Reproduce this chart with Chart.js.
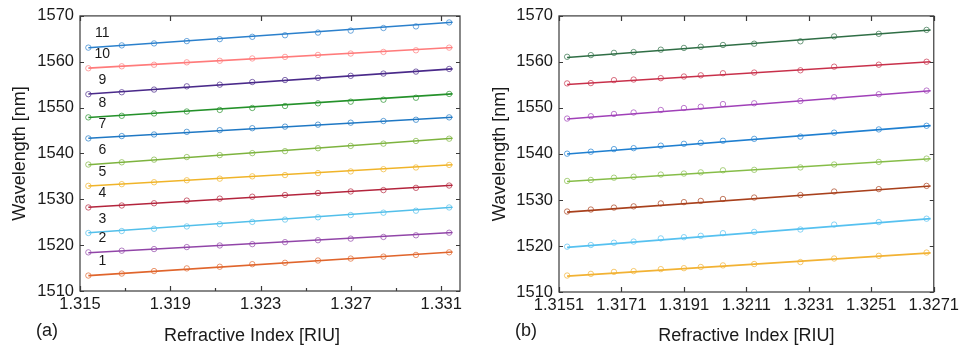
<!DOCTYPE html>
<html>
<head>
<meta charset="utf-8">
<script src="https://cdn.jsdelivr.net/npm/chart.js@4"></script>
<style>
html, body { margin: 0; padding: 0; background: #fff; }
#wrap { position: relative; width: 963px; height: 351px; }
canvas { position: absolute; top: 0; }
#chartA { left: 0; }
#chartB { left: 480px; }
</style>
</head>
<body>
<div id="wrap">
  <canvas id="chartA" width="480" height="351"></canvas>
  <canvas id="chartB" width="483" height="351"></canvas>
</div>
<script>
// Panel (a): refractive index of each measurement, shared by the 11 traces
const riA = [1.31537, 1.31685, 1.31828, 1.31973, 1.32119, 1.32263, 1.32408, 1.32554, 1.32699, 1.32844, 1.32988, 1.33135];
const a1  = [1513.37, 1513.80, 1514.35, 1514.93, 1515.29, 1515.85, 1516.15, 1516.65, 1517.07, 1517.50, 1517.87, 1518.43];
const a2  = [1518.43, 1518.79, 1519.15, 1519.58, 1519.93, 1520.22, 1520.65, 1521.08, 1521.42, 1521.79, 1522.15, 1522.71];
const a3  = [1522.65, 1523.08, 1523.57, 1524.08, 1524.58, 1525.07, 1525.58, 1526.07, 1526.57, 1527.08, 1527.51, 1528.22];
const a4  = [1528.22, 1528.65, 1529.14, 1529.72, 1530.15, 1530.57, 1530.94, 1531.37, 1531.71, 1532.01, 1532.50, 1533.00];
const a5  = [1532.93, 1533.30, 1533.72, 1534.15, 1534.50, 1535.01, 1535.29, 1535.72, 1536.08, 1536.57, 1536.94, 1537.50];
const a6  = [1537.58, 1538.07, 1538.65, 1539.21, 1539.64, 1540.07, 1540.50, 1541.14, 1541.65, 1542.14, 1542.72, 1543.22];
const a7  = [1543.28, 1543.79, 1544.14, 1544.71, 1545.08, 1545.51, 1545.85, 1546.28, 1546.71, 1547.07, 1547.35, 1547.87];
const a8  = [1547.87, 1548.21, 1548.72, 1549.15, 1549.49, 1549.92, 1550.35, 1550.93, 1551.29, 1551.72, 1552.15, 1552.98];
const a9  = [1552.92, 1553.35, 1553.93, 1554.64, 1555.00, 1555.58, 1556.01, 1556.50, 1556.93, 1557.42, 1557.85, 1558.43];
const a10 = [1558.58, 1559.01, 1559.35, 1559.87, 1560.21, 1560.72, 1561.06, 1561.49, 1561.79, 1562.14, 1562.50, 1563.08];
const a11 = [1563.08, 1563.57, 1564.00, 1564.50, 1564.93, 1565.44, 1565.78, 1566.36, 1566.79, 1567.36, 1567.71, 1568.57];
// fitted lines of panel (a): value at the first and at the last index
const fitXA     = [1.31537, 1.33150];
const fitStartA = [1513.35, 1518.35, 1522.70, 1528.25, 1532.90, 1537.55, 1543.30, 1547.85, 1552.95, 1558.60, 1563.05];
const fitEndA   = [1518.50, 1522.75, 1528.25, 1533.05, 1537.55, 1543.30, 1547.90, 1553.00, 1558.45, 1563.10, 1568.60];
const traceLabelsA = ['1', '2', '3', '4', '5', '6', '7', '8', '9', '10', '11'];
const xTicksA = [1.315, 1.319, 1.323, 1.327, 1.331];

// Panel (b): 8 traces, bottom to top
const riB = [1.31536, 1.31612, 1.31686, 1.31749, 1.31836, 1.31910, 1.31964, 1.32035, 1.32135, 1.32283, 1.32391, 1.32534, 1.32687];
const b1 = [1513.58, 1513.94, 1514.37, 1514.54, 1514.97, 1515.18, 1515.44, 1515.78, 1516.08, 1516.51, 1517.28, 1517.86, 1518.57];
const b2 = [1519.85, 1520.21, 1520.71, 1520.96, 1521.65, 1521.91, 1522.21, 1522.78, 1523.06, 1523.58, 1524.65, 1525.20, 1525.93];
const b3 = [1527.49, 1527.92, 1528.35, 1528.61, 1529.25, 1529.53, 1529.79, 1530.21, 1530.53, 1531.07, 1531.84, 1532.36, 1533.06];
const b4 = [1534.13, 1534.35, 1534.84, 1535.05, 1535.52, 1535.74, 1536.00, 1536.45, 1536.55, 1537.07, 1537.71, 1538.27, 1538.99];
const b5 = [1540.06, 1540.49, 1541.05, 1541.26, 1541.80, 1542.21, 1542.42, 1542.87, 1543.28, 1543.77, 1544.63, 1545.33, 1546.12];
const b6 = [1547.69, 1548.20, 1548.69, 1549.01, 1549.55, 1549.98, 1550.26, 1550.84, 1551.01, 1551.52, 1552.34, 1552.98, 1553.77];
const b7 = [1555.33, 1555.40, 1556.04, 1556.17, 1556.47, 1556.83, 1557.09, 1557.54, 1557.69, 1558.18, 1558.97, 1559.40, 1560.04];
const b8 = [1561.11, 1561.48, 1561.97, 1562.14, 1562.66, 1563.04, 1563.30, 1563.68, 1563.96, 1564.48, 1565.55, 1566.10, 1566.96];
const fitXB     = [1.31536, 1.32700];
const fitStartB = [1513.45, 1519.70, 1527.35, 1534.00, 1540.00, 1547.60, 1555.10, 1560.95];
const fitEndB   = [1518.50, 1525.95, 1533.05, 1538.95, 1546.15, 1553.75, 1560.05, 1566.95];
const xTicksB = [1.3151, 1.3171, 1.3191, 1.3211, 1.3231, 1.3251, 1.3271];

const yTicks = [1510, 1520, 1530, 1540, 1550, 1560, 1570];

const colorsA = ['#e0652c', '#9145a8', '#52bfea', '#b3243c', '#f0b429', '#7db33e',
                 '#1f78c4', '#24912a', '#4a2a8a', '#ff7b7b', '#2b80cc'];
const colorsB = ['#f2b233', '#56c1f0', '#a8401c', '#86bd48', '#1f7fd0', '#a040b8', '#c8304a', '#2f6e45'];

const FONT = "'Liberation Sans', Arial, sans-serif";
const INK = '#1a1a1a';

// box frame, inward ticks, trace numbers, x title and panel tag
const panelDeco = {
    id: 'panelDeco',
    afterDatasetsDraw(chart, args, o) {
        const { ctx, chartArea: a, scales: { x, y } } = chart;
        ctx.save();
        ctx.strokeStyle = '#3a3a3a';
        ctx.lineWidth = 1.2;
        ctx.beginPath();
        const xs = x.ticks.map(t => t.value);
        xs.forEach(v => {
            const px = Math.round(x.getPixelForValue(v)) + 0.5;
            ctx.moveTo(px, a.bottom); ctx.lineTo(px, a.bottom - 5);
            ctx.moveTo(px, a.top); ctx.lineTo(px, a.top + 5);
        });
        if (o.minor) {
            for (let i = 0; i < xs.length - 1; i++) {
                const px = Math.round(x.getPixelForValue((xs[i] + xs[i + 1]) / 2)) + 0.5;
                ctx.moveTo(px, a.bottom); ctx.lineTo(px, a.bottom - 3);
            }
        }
        y.ticks.forEach(t => {
            const py = Math.round(y.getPixelForValue(t.value)) + 0.5;
            ctx.moveTo(a.left, py); ctx.lineTo(a.left + 4, py);
            ctx.moveTo(a.right, py); ctx.lineTo(a.right - 4, py);
        });
        ctx.stroke();
        ctx.strokeRect(a.left, a.top, a.width, a.height);

        ctx.fillStyle = INK;
        if (o.numbers) {
            ctx.font = '14px ' + FONT;
            ctx.textAlign = 'center';
            ctx.textBaseline = 'middle';
            o.numbers.forEach((txt, i) => {
                const p = chart.getDatasetMeta(i).data[0];
                ctx.fillText(txt, p.x + 14, p.y - 14);
            });
        }
        ctx.font = '18px ' + FONT;
        ctx.textBaseline = 'alphabetic';
        ctx.textAlign = 'center';
        ctx.fillText(o.xTitle, (a.left + a.right) / 2 + o.dx, 341);
        ctx.textAlign = 'left';
        ctx.fillText(o.tag, a.left - 44, 336);
        ctx.restore();
    }
};

function makePanel(id, xs, series, fitX, fitStart, fitEnd, colors, xTicks, digits, lay, deco) {
    const marks = series.map((ys, i) => ({
        data: xs.map((x, j) => ({ x: x, y: ys[j] })),
        showLine: false,
        pointRadius: 2.7,
        pointBorderWidth: 1,
        pointBorderColor: colors[i] + 'b0',
        pointBackgroundColor: 'rgba(0,0,0,0)'
    }));
    const fits = fitStart.map((v, i) => ({
        data: [{ x: fitX[0], y: v }, { x: fitX[1], y: fitEnd[i] }],
        showLine: true,
        borderColor: colors[i],
        borderWidth: 1.6,
        pointRadius: 0
    }));
    return new Chart(document.getElementById(id), {
        type: 'scatter',
        data: { datasets: marks.concat(fits) },
        options: {
            responsive: false,
            animation: false,
            events: [],
            layout: { padding: { left: 0, right: lay.right, top: lay.top, bottom: 0 } },
            plugins: {
                legend: { display: false },
                tooltip: { enabled: false },
                panelDeco: deco
            },
            scales: {
                x: {
                    type: 'linear',
                    min: xTicks[0],
                    max: lay.xMax,
                    afterBuildTicks: s => { s.ticks = xTicks.map(v => ({ value: v })); },
                    afterFit: s => { s.height = lay.xHeight; },
                    grid: { display: false, drawTicks: false },
                    border: { display: false },
                    ticks: {
                        autoSkip: false, maxRotation: 0, minRotation: 0, padding: 4,
                        color: INK, font: { family: FONT, size: 16.5 },
                        callback: v => Number(v).toFixed(digits)
                    }
                },
                y: {
                    min: 1510,
                    max: 1570,
                    afterBuildTicks: s => { s.ticks = yTicks.map(v => ({ value: v })); },
                    afterFit: s => { s.width = lay.yWidth; },
                    grid: { display: false, drawTicks: false },
                    border: { display: false },
                    ticks: {
                        padding: 6, color: INK, font: { family: FONT, size: 16.5 },
                        callback: v => String(v)
                    },
                    title: {
                        display: true, text: 'Wavelength [nm]', color: INK,
                        font: { family: FONT, size: 18 }, padding: { top: 9, bottom: 0 }
                    }
                }
            }
        },
        plugins: [panelDeco]
    });
}

makePanel('chartA', riA, [a1, a2, a3, a4, a5, a6, a7, a8, a9, a10, a11], fitXA, fitStartA, fitEndA,
    colorsA, xTicksA, 3,
    { right: 20, top: 11, xHeight: 60, yWidth: 80, xMax: 1.33183 },
    { minor: true, numbers: traceLabelsA, xTitle: 'Refractive Index [RIU]', dx: -18, tag: '(a)' });

makePanel('chartB', riB, [b1, b2, b3, b4, b5, b6, b7, b8], fitXB, fitStartB, fitEndB,
    colorsB, xTicksB, 4,
    { right: 25, top: 12, xHeight: 59, yWidth: 79, xMax: 1.3271 },
    { minor: false, xTitle: 'Refractive Index [RIU]', dx: 0, tag: '(b)' });
</script>
</body>
</html>
